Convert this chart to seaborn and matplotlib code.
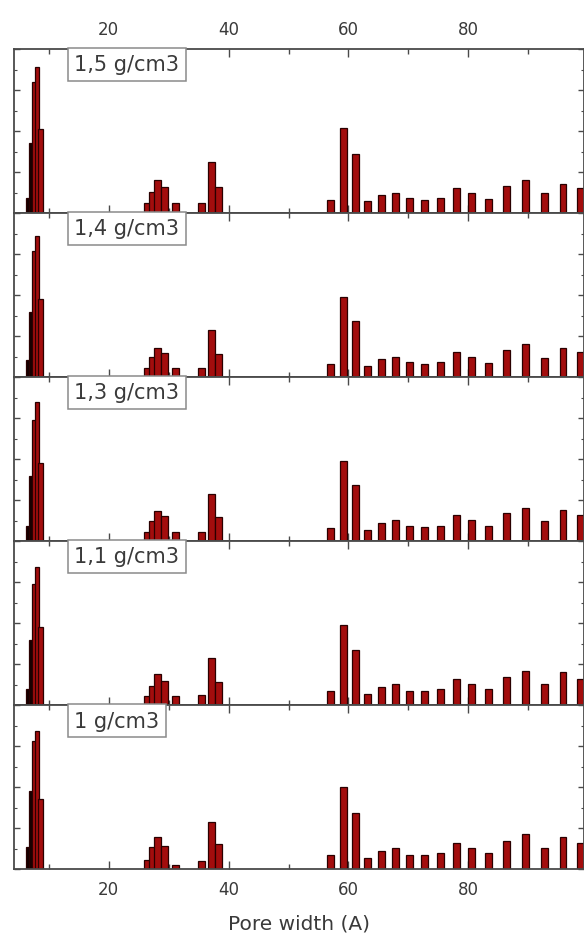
import numpy as np
import matplotlib
matplotlib.use("Agg")
import matplotlib.pyplot as plt
import seaborn as sns
from matplotlib.ticker import MultipleLocator

# ---------------- data ----------------
densities = ["1,5 g/cm3", "1,4 g/cm3", "1,3 g/cm3", "1,1 g/cm3", "1 g/cm3"]

# narrow micropore bars (drawn dark)
micro_x = [6.5, 7.0]
# first red cluster
first_x = [7.5, 8.0, 8.6]
# remaining pore bars
pore_x = [26.5, 27.3, 28.2, 29.3, 31.2,
          35.5, 37.2, 38.3,
          57.0, 59.2, 61.2, 63.2, 65.5, 67.8, 70.2, 72.7, 75.3,
          78.0, 80.5, 83.3, 86.3, 89.5, 92.7, 95.8, 98.7]

micro_15 = [0.09, 0.43]
first_15 = [0.80, 0.89, 0.51]
pores_15 = [0.06, 0.13, 0.20, 0.16, 0.06,
            0.06, 0.31, 0.16,
            0.08, 0.52, 0.36, 0.075, 0.11, 0.125, 0.09, 0.08, 0.09,
            0.155, 0.125, 0.085, 0.165, 0.20, 0.12, 0.18, 0.155]

micro_14 = [0.105, 0.40]
first_14 = [0.77, 0.86, 0.475]
pores_14 = [0.055, 0.125, 0.18, 0.15, 0.055,
            0.055, 0.29, 0.14,
            0.08, 0.49, 0.345, 0.07, 0.11, 0.125, 0.09, 0.08, 0.09,
            0.155, 0.125, 0.085, 0.165, 0.20, 0.12, 0.18, 0.155]

micro_13 = [0.09, 0.40]
first_13 = [0.74, 0.85, 0.475]
pores_13 = [0.055, 0.125, 0.185, 0.155, 0.055,
            0.055, 0.29, 0.15,
            0.08, 0.49, 0.34, 0.07, 0.11, 0.13, 0.09, 0.085, 0.095,
            0.16, 0.13, 0.09, 0.17, 0.205, 0.125, 0.19, 0.16]

micro_11 = [0.10, 0.40]
first_11 = [0.74, 0.845, 0.48]
pores_11 = [0.055, 0.12, 0.19, 0.15, 0.055,
            0.06, 0.29, 0.14,
            0.085, 0.49, 0.34, 0.07, 0.11, 0.13, 0.09, 0.085, 0.10,
            0.16, 0.13, 0.10, 0.17, 0.21, 0.13, 0.20, 0.16]

micro_10 = [0.135, 0.475]
first_10 = [0.78, 0.845, 0.43]
pores_10 = [0.06, 0.135, 0.20, 0.14, 0.025,
            0.05, 0.29, 0.155,
            0.085, 0.50, 0.345, 0.07, 0.11, 0.13, 0.09, 0.085, 0.10,
            0.16, 0.13, 0.10, 0.17, 0.215, 0.13, 0.20, 0.16]

panels = [
    (densities[0], micro_15, first_15, pores_15),
    (densities[1], micro_14, first_14, pores_14),
    (densities[2], micro_13, first_13, pores_13),
    (densities[3], micro_11, first_11, pores_11),
    (densities[4], micro_10, first_10, pores_10),
]

x_ticks_major = [20, 40, 60, 80]
x_label = "Pore width (A)"

# ---------------- style ----------------
sns.set_style("ticks")
plt.rcParams["font.family"] = ["DejaVu Sans"]
TXT = "#3a3a3a"
AXC = "#4a4a4a"
RED = "#a30d0d"
EDGE = "#2a0000"

fig, axes = plt.subplots(5, 1, figsize=(5.84, 9.45), dpi=100, sharex=True)
fig.subplots_adjust(left=0.024, right=1.0, top=0.947, bottom=0.079, hspace=0)


def draw(ax, xs, hs, data_width, color):
    xs = np.asarray(xs, float)
    spacing = np.min(np.diff(np.sort(xs))) if len(xs) > 1 else 1.0
    sns.barplot(x=xs, y=hs, native_scale=True, width=data_width / spacing,
                color=color, saturation=1, edgecolor=EDGE, linewidth=0.9,
                errorbar=None, legend=False, ax=ax)


for i, (ax, (lab, mh, fh, ph)) in enumerate(zip(axes, panels)):
    draw(ax, micro_x, mh, 0.55, "#140000")
    draw(ax, first_x, fh, 0.75, RED)
    draw(ax, pore_x, ph, 1.15, RED)

    ax.set_xlim(4.2, 99.3)
    ax.set_ylim(0, 1.0)
    ax.set_xlabel("")
    ax.set_ylabel("")
    ax.xaxis.set_major_locator(MultipleLocator(20))
    ax.xaxis.set_minor_locator(MultipleLocator(10))
    ax.yaxis.set_major_locator(MultipleLocator(0.25))
    ax.yaxis.set_minor_locator(MultipleLocator(0.125))
    ax.tick_params(axis="both", which="both", direction="in", colors=AXC,
                   top=True, bottom=True, left=True, right=True,
                   labelleft=False, labelright=False, labelbottom=False,
                   labeltop=False, labelcolor=TXT, labelsize=12, pad=8)
    ax.tick_params(axis="x", which="major", length=6, width=1)
    ax.tick_params(axis="x", which="minor", length=3.5, width=1)
    ax.tick_params(axis="y", which="major", length=4.5, width=1)
    ax.tick_params(axis="y", which="minor", length=2.5, width=0.8)
    for s in ax.spines.values():
        s.set_color(AXC)
        s.set_linewidth(1.3)
        s.set_visible(True)

    ax.text(0.106, 0.968, lab, transform=ax.transAxes, ha="left", va="top",
            fontsize=15, color=TXT,
            bbox=dict(boxstyle="square,pad=0.32", facecolor="white",
                      edgecolor="#8a8a8a", linewidth=1.1))

axes[0].tick_params(axis="x", which="major", labeltop=True)
axes[-1].tick_params(axis="x", which="major", labelbottom=True)
axes[-1].set_xticks(x_ticks_major)
axes[-1].set_xlabel(x_label, fontsize=14.5, color=TXT, labelpad=11)

fig.savefig("out.png", dpi=100)
